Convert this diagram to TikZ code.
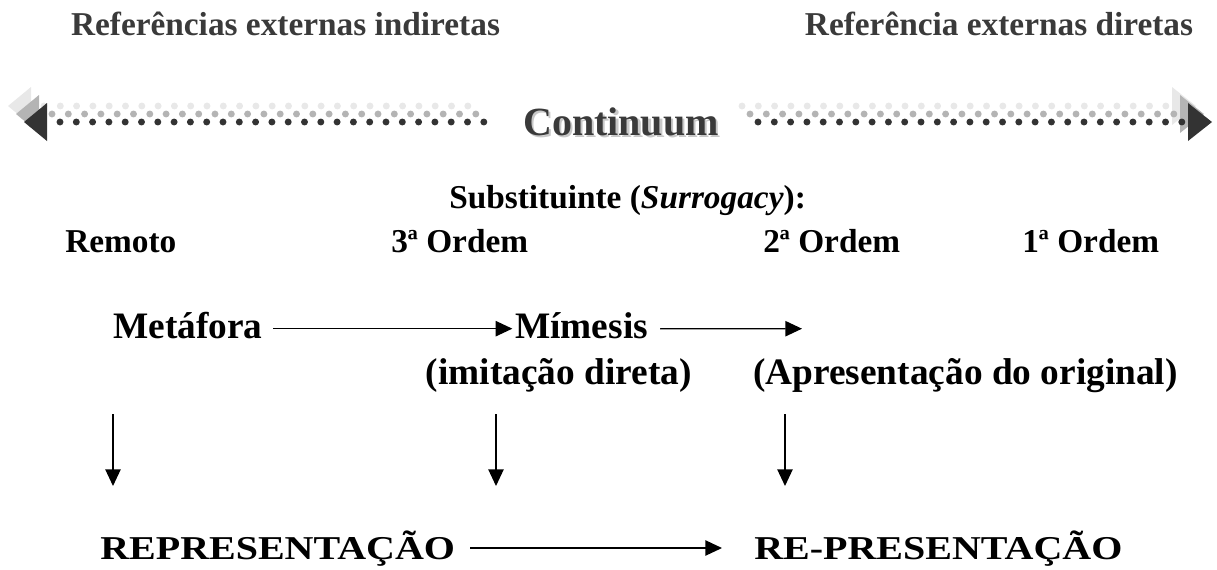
\documentclass[tikz,border=0pt]{standalone}
\usepackage{fontspec}
\setmainfont{Liberation Serif}
\newfontfamily\widefont[FakeStretch=1.2]{Liberation Serif}
\usetikzlibrary{arrows.meta,calc}
\definecolor{titlegray}{HTML}{3A3A3A}
\definecolor{dotdark}{HTML}{333333}
\definecolor{dotmid}{HTML}{B4B4B4}
\definecolor{dotlight}{HTML}{E8E8E8}
\definecolor{shadowgray}{HTML}{C8C8C8}
\begin{document}
\begin{tikzpicture}[x=0.75pt,y=-0.75pt,
  title/.style={font=\bfseries\fontsize{25}{30}\selectfont, text=titlegray, inner sep=0pt, anchor=base},
  lbl/.style={font=\bfseries\fontsize{25}{30}\selectfont, inner sep=0pt, anchor=base west},
  big/.style={font=\bfseries\fontsize{28}{32}\selectfont, inner sep=0pt, text height=19.6pt, text depth=5.6pt},
  bot/.style={font=\widefont\bfseries\fontsize{25}{30}\selectfont, inner sep=0pt, text height=16.5pt, text depth=0pt, anchor=base west},
  cont/.style={font=\bfseries\fontsize{30}{34}\selectfont, inner sep=0pt, anchor=base},
  arr/.style={line width=1pt, -{Triangle[length=12.5pt,width=11.5pt]}},
  dot/.style={radius=2.6pt}
]
\useasboundingbox (0,0) rectangle (1217,569);

% titles
\node[title] (tl) at (285.5,35) {Referências externas indiretas};
\node[title] (tr) at (999,35) {Referência externas diretas};

% continuum arrow: shadow layers then front
\foreach \dx/\col in {-16/dotlight,-8/dotmid,0/dotdark}{
  \fill[\col] ({24+\dx},{122+\dx}) -- ({47+\dx},{103+\dx}) -- ({47+\dx},{141+\dx}) -- cycle;
  \fill[\col] ({1212+\dx},{122+\dx}) -- ({1188+\dx},{103+\dx}) -- ({1188+\dx},{141+\dx}) -- cycle;
  \foreach \i in {0,...,26}{
    \fill[\col] ({60+16.3*\i+\dx},{122+\dx}) circle[dot];
    \fill[\col] ({758+16.3*\i+\dx},{122+\dx}) circle[dot];
  }
}
\node[cont, text=shadowgray] (contsh) at (623.5,137.5) {Continuum};
\node[cont, text=titlegray] (cont) at (621,135) {Continuum};

% substitute row
\node[lbl] (sub) at (449,208) {Substituinte (\textit{Surrogacy}):};
\node[lbl] (rem) at (65,252) {Remoto};
\node[lbl] (o3) at (391,252) {3ª Ordem};
\node[lbl] (o2) at (763,252) {2ª Ordem};
\node[lbl] (o1) at (1022,252) {1ª Ordem};

% metaphor row
\node[big, anchor=base west] (met) at (113,338) {Metáfora};
\node[big, anchor=base west] (mim) at (515,338) {Mímesis};
\coordinate (mend) at (802,328.7);
\draw[arr, shorten <=8pt, shorten >=2pt] (met) -- (mim);
\draw[arr, shorten <=9pt] (mim) -- (mend);

\node[big, anchor=base east] (imi) at (692,384) {(imitação direta)};
\node[big, anchor=base west] (apr) at (753,384) {(Apresentação do original)};

% vertical arrows
\coordinate (v1a) at (113,414); \coordinate (v1b) at (113,486);
\coordinate (v2a) at (496,414); \coordinate (v2b) at (496,486);
\coordinate (v3a) at (785,414); \coordinate (v3b) at (785,486);
\draw[arr] (v1a) -- (v1b);
\draw[arr] (v2a) -- (v2b);
\draw[arr] (v3a) -- (v3b);

% bottom row
\node[bot] (rep) at (100,559) {REPRESENTAÇÃO};
\node[bot] (repr) at (754,559) {RE-PRESENTAÇÃO};
\draw[arr, shorten <=11pt, shorten >=24pt] (rep) -- (repr);
\end{tikzpicture}
\end{document}
